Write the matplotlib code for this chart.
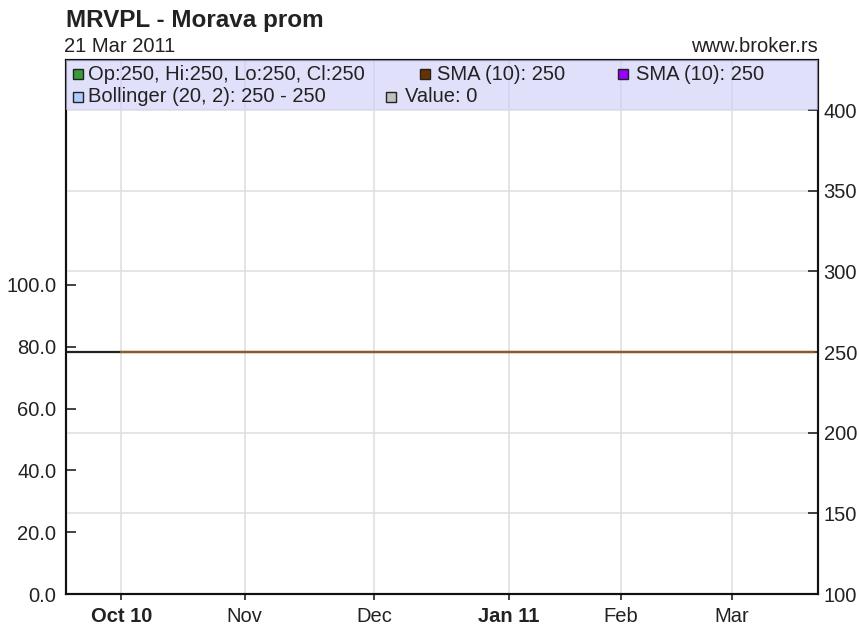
import matplotlib
matplotlib.use("Agg")
import matplotlib.pyplot as plt
from matplotlib.patches import Rectangle
import numpy as np
import pandas as pd

# ---------------- data ----------------
title = "MRVPL - Morava prom"
date_label = "21 Mar 2011"
site = "www.broker.rs"
start_date = "2010-09-20"
end_date = "2011-03-21"
holidays = ["2011-01-03", "2011-01-07", "2011-02-15"]
close_value = 250
volume_value = 0
sma_period = 10
month_labels = ["Oct 10", "Nov", "Dec", "Jan 11", "Feb", "Mar"]
bold_labels = ["Oct 10", "Jan 11"]
price_ticks = [100, 150, 200, 250, 300, 350, 400]
volume_ticks = [0, 20, 40, 60, 80, 100]
legend_row1 = [("#3a9a3a", "Op:250, Hi:250, Lo:250, Cl:250"),
               ("#663300", "SMA (10): 250"),
               ("#9900ff", "SMA (10): 250")]
legend_row2 = [("#aaccff", "Bollinger (20, 2): 250 - 250"),
               ("#c0c0c0", "Value: 0")]

# trading days
dates = pd.bdate_range(start_date, end_date, freq="C", holidays=holidays)
n = len(dates)
close = pd.Series([close_value] * n, dtype=float)
sma = close.rolling(sma_period).mean()
boll = close.rolling(20).mean()
idx = np.arange(n)

month_start = [i for i in range(1, n) if dates[i].month != dates[i - 1].month]

# ---------------- figure ----------------
plt.rcParams['font.family'] = ['Liberation Sans', 'DejaVu Sans']
W, H = 859, 625
fig = plt.figure(figsize=(W / 100, H / 100), dpi=100)
L, R, T, B = 66, 818, 60, 594
ax_v = fig.add_axes([L / W, 1 - B / H, (R - L) / W, (B - T) / H])
ax = ax_v.twinx()

txt = "#222222"
fs = 14.5

# volume axis (left)
ax_v.set_ylim(0, 172.8)
ax_v.set_yticks(volume_ticks)
ax_v.set_yticklabels([f"{v:.1f}" for v in volume_ticks])
ax_v.tick_params(axis='y', direction='in', length=7, width=1.2, pad=7,
                 labelsize=fs, colors=txt)
ax_v.set_xlim(-0.4, n - 0.4)
ax_v.set_xticks(month_start)
ax_v.set_xticklabels(month_labels)
for lab in ax_v.get_xticklabels():
    if lab.get_text() in bold_labels:
        lab.set_fontweight('bold')
ax_v.tick_params(axis='x', direction='out', length=4, width=1.2, pad=5,
                 labelsize=fs, colors=txt)
ax_v.grid(axis='x', color='#e0e0e0', linewidth=1.2)
ax_v.set_axisbelow(True)

# price axis (right)
ax.set_ylim(100, 431)
ax.set_yticks(price_ticks)
ax.tick_params(axis='y', direction='in', length=7, width=1.2, pad=4,
               labelsize=fs, colors=txt)
ax.grid(axis='y', color='#e0e0e0', linewidth=1.2)
ax.set_axisbelow(True)

for a in (ax, ax_v):
    for s in a.spines.values():
        s.set_linewidth(1.5)
        s.set_color('#111111')

ax.plot(idx, close, color='#222222', lw=1.6, zorder=3)
ax.plot(idx, boll, color='#aaccff', lw=1.4, zorder=3)
ax.plot(idx, sma, color='#9900ff', lw=1.4, zorder=3)
ax.plot(idx, sma, color='#93561f', lw=1.6, zorder=4)

# legend band
band_h = 50 / (B - T)
ax.add_patch(Rectangle((0, 1 - band_h), 1, band_h, transform=ax.transAxes,
                       facecolor='#cdcdf7', alpha=0.62, edgecolor='none', zorder=5))

def fx(px):
    return (px - L) / (R - L)

def fy(py):
    return (B - py) / (B - T)

def legend_item(sq_x, txt_x, y, color, label):
    ax.plot([fx(sq_x)], [fy(y)], marker='s', markersize=7.6, color=color,
            markeredgecolor='#222222', markeredgewidth=1.0,
            transform=ax.transAxes, zorder=6, clip_on=False)
    ax.text(fx(txt_x), fy(y), label, transform=ax.transAxes, fontsize=fs,
            color=txt, va='center', ha='left', zorder=6)

sq1 = [78, 425, 623]
tx1 = [88, 437, 636]
for (c, l), sx, tx in zip(legend_row1, sq1, tx1):
    legend_item(sx, tx, 74, c, l)
sq2 = [78, 391]
tx2 = [88, 405]
for (c, l), sx, tx in zip(legend_row2, sq2, tx2):
    legend_item(sx, tx, 97, c, l)

# titles
fig.text(L / W, 1 - 27 / H, title, fontsize=17.5, fontweight='bold',
         color=txt, ha='left', va='baseline')
fig.text(L / W - 2 / W, 1 - 52 / H, date_label, fontsize=fs, color=txt,
         ha='left', va='baseline')
fig.text(R / W, 1 - 52 / H, site, fontsize=fs, color=txt,
         ha='right', va='baseline')

fig.savefig("out.png", dpi=100)
